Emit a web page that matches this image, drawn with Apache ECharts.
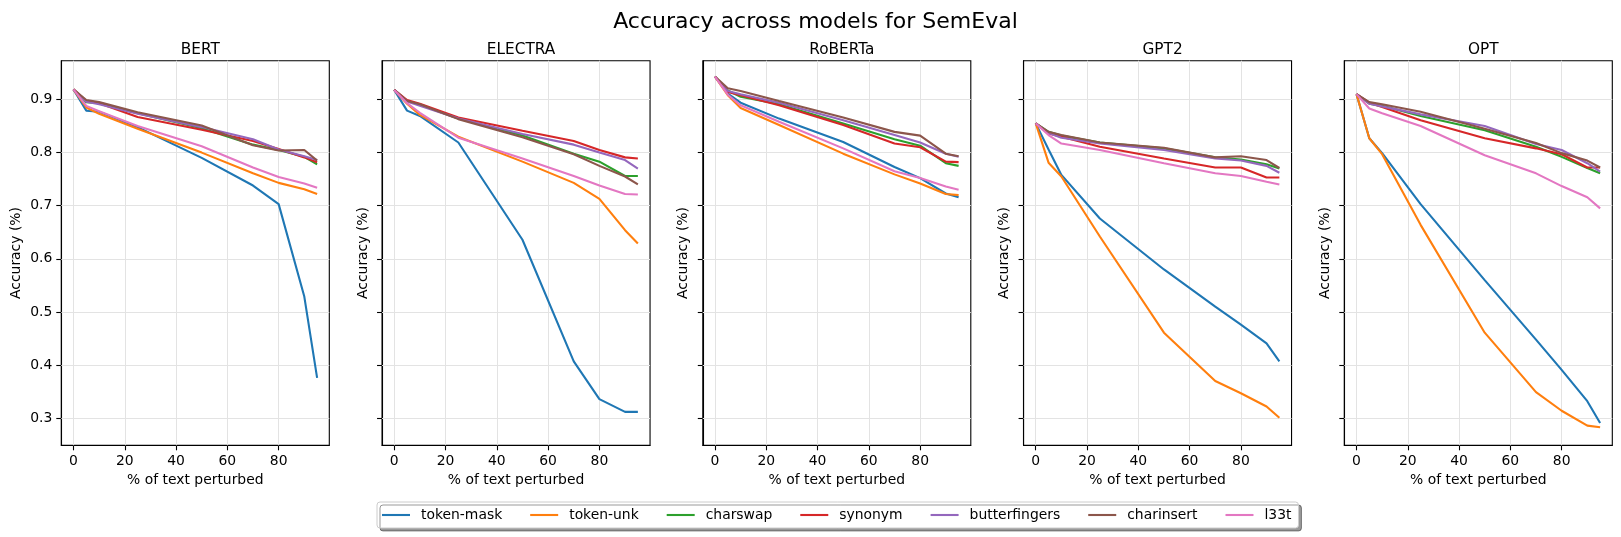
<!DOCTYPE html>
<html>
<head>
<meta charset="utf-8">
<script src="https://cdn.jsdelivr.net/npm/echarts@6/dist/echarts.min.js"></script>
<style>
  html, body { margin: 0; padding: 0; background: #fff; }
  #chart { width: 1621px; height: 537px; }
</style>
</head>
<body>
<div id="chart"></div>
<script>
// x positions (% of text perturbed)
var xs = [0, 5, 10, 25, 50, 70, 80, 90, 95];
var xTicks = [0, 20, 40, 60, 80];
var yTicks = [0.3, 0.4, 0.5, 0.6, 0.7, 0.8, 0.9];

var models = ['BERT', 'ELECTRA', 'RoBERTa', 'GPT2', 'OPT'];
var perturbations = ['token-mask', 'token-unk', 'charswap', 'synonym', 'butterfingers', 'charinsert', 'l33t'];
var colors = ['#1f77b4', '#ff7f0e', '#2ca02c', '#d62728', '#9467bd', '#8c564b', '#e377c2'];

// rows follow the perturbations order
var bert = [
    [0.919, 0.879, 0.877, 0.848, 0.790, 0.738, 0.703, 0.529, 0.376],
    [0.919, 0.885, 0.873, 0.845, 0.800, 0.761, 0.743, 0.731, 0.722],
    [0.919, 0.895, 0.893, 0.874, 0.846, 0.815, 0.805, 0.792, 0.778],
    [0.919, 0.897, 0.893, 0.867, 0.843, 0.822, 0.807, 0.791, 0.782],
    [0.919, 0.896, 0.891, 0.873, 0.848, 0.825, 0.806, 0.793, 0.786],
    [0.919, 0.899, 0.895, 0.876, 0.851, 0.814, 0.804, 0.805, 0.785],
    [0.919, 0.888, 0.878, 0.850, 0.812, 0.772, 0.754, 0.742, 0.734]
];
var electra = [
    [0.918, 0.879, 0.869, 0.819, 0.636, 0.407, 0.336, 0.312, 0.312],
    [0.918, 0.892, 0.871, 0.830, 0.783, 0.743, 0.713, 0.654, 0.629],
    [0.918, 0.897, 0.890, 0.864, 0.832, 0.798, 0.783, 0.756, 0.756],
    [0.918, 0.899, 0.892, 0.866, 0.841, 0.822, 0.805, 0.791, 0.789],
    [0.918, 0.896, 0.888, 0.864, 0.835, 0.815, 0.800, 0.786, 0.770],
    [0.918, 0.897, 0.891, 0.863, 0.829, 0.797, 0.775, 0.755, 0.740],
    [0.918, 0.893, 0.875, 0.828, 0.789, 0.756, 0.738, 0.722, 0.721]
];
var roberta = [
    [0.943, 0.911, 0.894, 0.864, 0.820, 0.773, 0.752, 0.723, 0.716],
    [0.943, 0.908, 0.884, 0.852, 0.798, 0.759, 0.742, 0.722, 0.720],
    [0.943, 0.917, 0.905, 0.891, 0.855, 0.825, 0.813, 0.780, 0.775],
    [0.943, 0.914, 0.908, 0.889, 0.852, 0.817, 0.810, 0.783, 0.782],
    [0.943, 0.916, 0.910, 0.894, 0.861, 0.833, 0.819, 0.798, 0.792],
    [0.943, 0.921, 0.916, 0.897, 0.866, 0.839, 0.832, 0.798, 0.793],
    [0.943, 0.909, 0.889, 0.858, 0.808, 0.765, 0.752, 0.736, 0.730]
];
var gpt2 = [
    [0.855, 0.806, 0.758, 0.676, 0.580, 0.510, 0.476, 0.441, 0.407],
    [0.855, 0.781, 0.755, 0.642, 0.461, 0.370, 0.347, 0.322, 0.301],
    [0.855, 0.839, 0.832, 0.819, 0.808, 0.791, 0.787, 0.778, 0.770],
    [0.855, 0.836, 0.830, 0.811, 0.789, 0.772, 0.772, 0.753, 0.753],
    [0.855, 0.837, 0.828, 0.817, 0.805, 0.789, 0.785, 0.775, 0.762],
    [0.855, 0.839, 0.833, 0.819, 0.809, 0.791, 0.793, 0.786, 0.771],
    [0.855, 0.833, 0.817, 0.805, 0.780, 0.761, 0.756, 0.745, 0.740]
];
var opt = [
    [0.910, 0.827, 0.799, 0.703, 0.560, 0.448, 0.391, 0.332, 0.291],
    [0.910, 0.827, 0.797, 0.664, 0.461, 0.349, 0.314, 0.286, 0.283],
    [0.910, 0.892, 0.888, 0.869, 0.842, 0.811, 0.792, 0.771, 0.761],
    [0.910, 0.894, 0.886, 0.861, 0.827, 0.808, 0.797, 0.772, 0.772],
    [0.910, 0.892, 0.887, 0.872, 0.850, 0.816, 0.805, 0.780, 0.764],
    [0.910, 0.895, 0.891, 0.877, 0.845, 0.818, 0.799, 0.785, 0.772],
    [0.910, 0.883, 0.874, 0.850, 0.795, 0.761, 0.737, 0.716, 0.695]
];
var modelData = [bert, electra, roberta, gpt2, opt];

var font = 'DejaVu Sans';
var gridLeft0 = 61.3, gridStep = 320.75, gridWidth = 268;
var gridTop = 60.7, gridHeight = 384.6;

var grids = [], xAxes = [], yAxes = [], titles = [], series = [];

titles.push({
    text: 'Accuracy across models for SemEval',
    left: 810.5, top: 6, textAlign: 'center',
    textStyle: {fontFamily: font, fontSize: 22, fontWeight: 'normal', color: '#000'}
});

for (var i = 0; i < models.length; i++) {
    var left = gridLeft0 + i * gridStep;
    grids.push({
        left: left, top: gridTop, width: gridWidth, height: gridHeight,
        show: true, borderColor: '#000', borderWidth: 1.1, backgroundColor: 'transparent'
    });
    titles.push({
        text: models[i],
        left: left + gridWidth / 2, top: 38, textAlign: 'center',
        textStyle: {fontFamily: font, fontSize: 15.3, fontWeight: 'normal', color: '#000'}
    });
    xAxes.push({
        gridIndex: i, type: 'value', min: -4.75, max: 99.75,
        name: '% of text perturbed', nameLocation: 'middle', nameGap: 24,
        nameTextStyle: {fontFamily: font, fontSize: 13.9, color: '#000'},
        axisLine: {show: true, onZero: false, lineStyle: {color: '#000', width: 1.1}},
        axisTick: {show: true, length: 5, customValues: xTicks, lineStyle: {color: '#000', width: 1.1}},
        axisLabel: {customValues: xTicks, margin: 9, fontFamily: font, fontSize: 13.9, color: '#000'},
        splitLine: {show: false}
    });
    yAxes.push({
        gridIndex: i, type: 'value', min: 0.249, max: 0.973,
        name: 'Accuracy (%)', nameLocation: 'middle', nameGap: i === 0 ? 38 : 12,
        nameTextStyle: {fontFamily: font, fontSize: 13.9, color: '#000'},
        axisLine: {show: true, onZero: false, lineStyle: {color: '#000', width: 1.1}},
        axisTick: {show: true, length: 5, customValues: yTicks, lineStyle: {color: '#000', width: 1.1}},
        axisLabel: {
            show: i === 0, customValues: yTicks, margin: 9,
            fontFamily: font, fontSize: 13.9, color: '#000',
            formatter: function (v) { return v.toFixed(1); }
        },
        splitLine: {show: false}
    });

    for (var k = 0; k < perturbations.length; k++) {
        var pts = [];
        for (var j = 0; j < xs.length; j++) {
            pts.push([xs[j], modelData[i][k][j]]);
        }
        var s = {
            name: perturbations[k], type: 'line',
            xAxisIndex: i, yAxisIndex: i,
            data: pts, symbol: 'none', showSymbol: false,
            color: colors[k],
            lineStyle: {color: colors[k], width: 2.1},
            animation: false, z: 3
        };
        if (k === 0) {
            // light grid lines like matplotlib's ax.grid(alpha=0.3)
            var gl = [];
            xTicks.forEach(function (v) { gl.push({xAxis: v}); });
            yTicks.forEach(function (v) { gl.push({yAxis: v}); });
            s.markLine = {
                silent: true, symbol: ['none', 'none'], animation: false,
                label: {show: false},
                lineStyle: {color: '#e3e3e3', width: 1, type: 'solid'},
                emphasis: {disabled: true},
                data: gl, z: 1
            };
        }
        series.push(s);
    }
}

var chart = echarts.init(document.getElementById('chart'));
chart.setOption({
    backgroundColor: '#fff',
    animation: false,
    title: titles,
    grid: grids,
    xAxis: xAxes,
    yAxis: yAxes,
    legend: {
        data: perturbations,
        left: 377, top: 502,
        orient: 'horizontal',
        icon: 'rect',
        itemWidth: 28, itemHeight: 2.1, itemGap: 28,
        padding: [5, 7, 5, 5],
        backgroundColor: '#ffffff',
        borderColor: '#cccccc', borderWidth: 1, borderRadius: 3,
        shadowColor: 'rgba(0,0,0,0.4)', shadowBlur: 0, shadowOffsetX: 3, shadowOffsetY: 3,
        textStyle: {fontFamily: font, fontSize: 13.9, color: '#000', padding: [0, 0, 0, 6], lineHeight: 16},
        selectedMode: false
    },
    series: series
});
</script>
</body>
</html>
